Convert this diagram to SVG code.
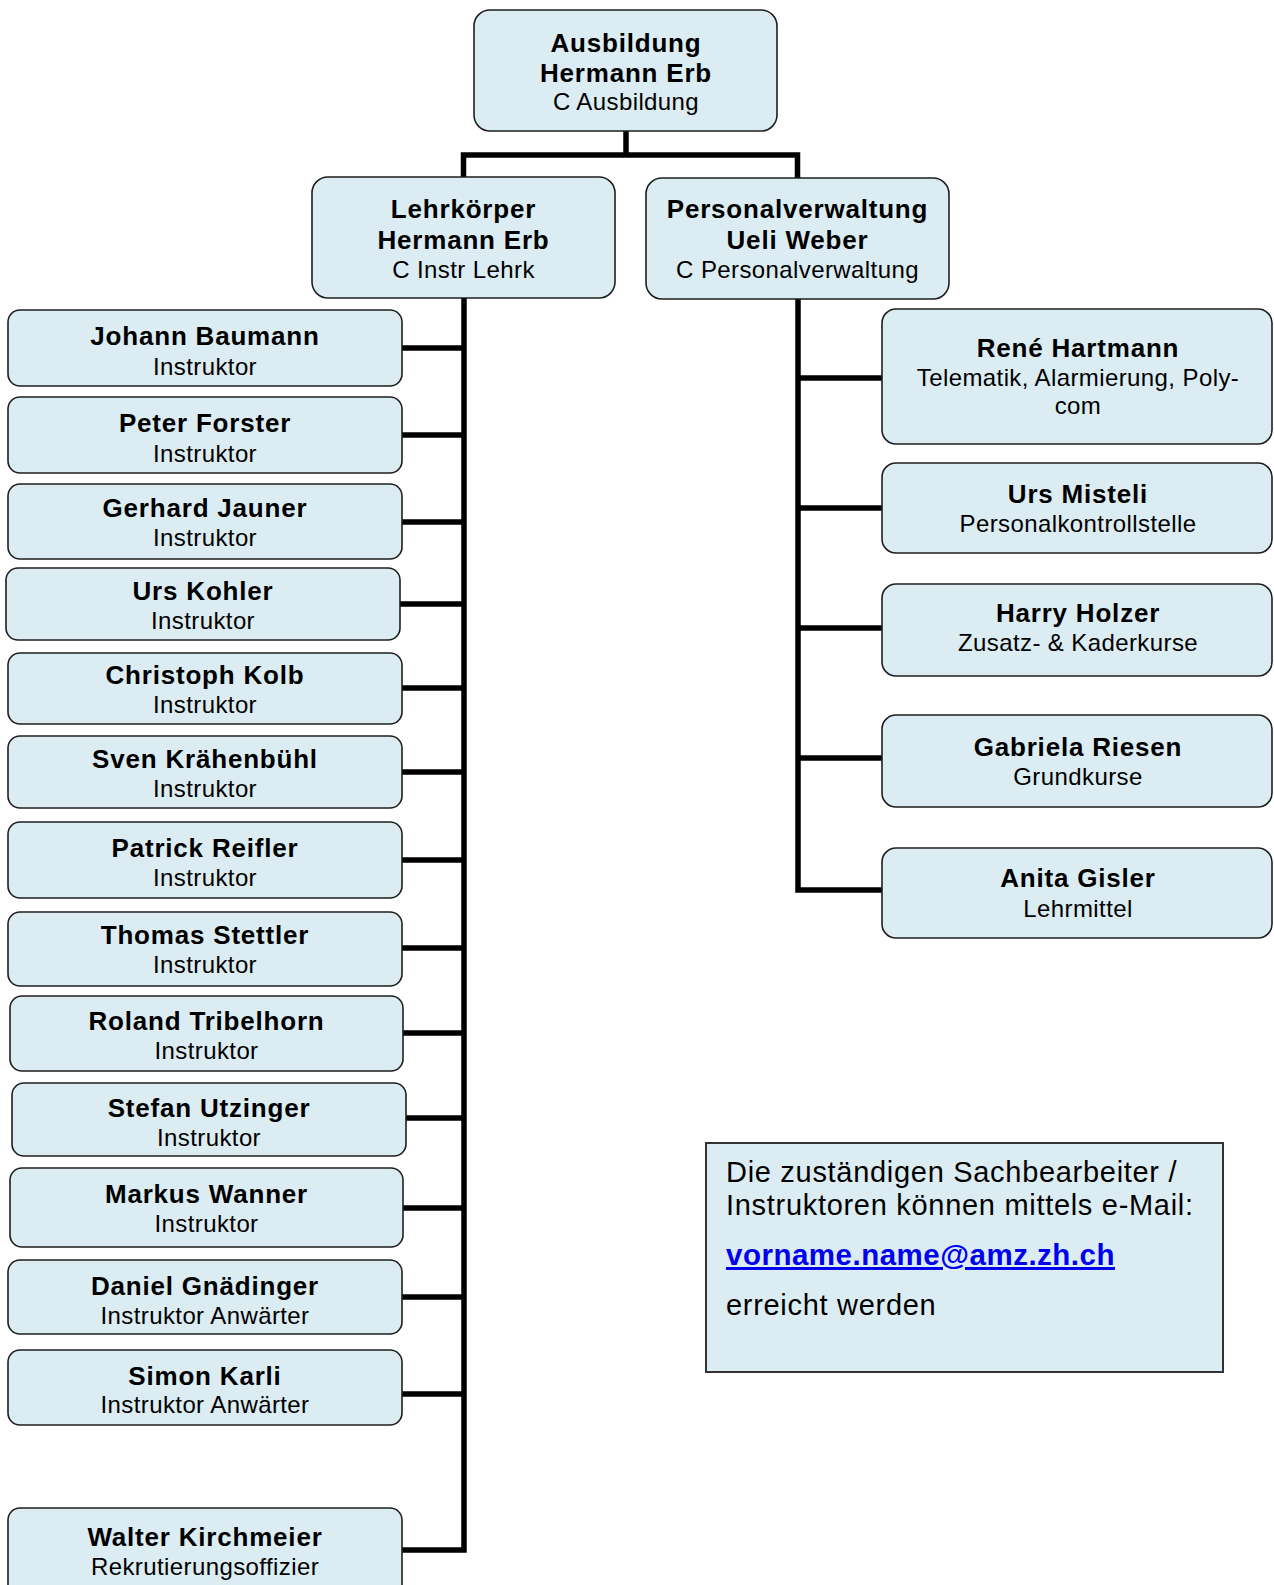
<svg xmlns="http://www.w3.org/2000/svg" width="1274" height="1585" viewBox="0 0 1274 1585">
<style>
.box{fill:#dbedf3;stroke:#1e1e1e;stroke-width:1.6}
.b{font-family:"Liberation Sans",Arial,sans-serif;font-weight:bold;font-size:26px;letter-spacing:0.8px;fill:#000;text-anchor:middle}
.r{font-family:"Liberation Sans",Arial,sans-serif;font-size:24px;letter-spacing:0.4px;fill:#000;text-anchor:middle}
.conn{fill:none;stroke:#000;stroke-width:5.5;stroke-linejoin:miter;stroke-linecap:butt}
.note{font-family:"Liberation Sans",Arial,sans-serif;font-size:29px;letter-spacing:0.7px;fill:#000}
.link{font-family:"Liberation Sans",Arial,sans-serif;font-size:29.5px;font-weight:bold;letter-spacing:0.5px;fill:#0000ee;text-decoration:underline}
</style>
<rect width="1274" height="1585" fill="#fff"/>
<g id="connectors">
<path class="conn" d="M626 131V155M463.5 177V155H797.5V178"/>
<path class="conn" d="M464 298V1550H402"/>
<path class="conn" d="M402 348H464M402 435H464M402 522H464M400 604H464M402 688H464M402 772H464M402 860H464M402 948H464M403 1033H464M406 1118H464M403 1208H464M402 1297H464M402 1394H464"/>
<path class="conn" d="M798 299V890H882M798 378H882M798 508H882M798 628H882M798 758H882"/>
</g>
<g id="n-ausbildung"><rect class="box" x="474" y="10" width="303" height="121" rx="16"/>
<text class="b" x="626" y="52">Ausbildung</text><text class="b" x="626" y="82">Hermann Erb</text><text class="r" x="626" y="110">C Ausbildung</text></g>
<g id="n-lehrkoerper"><rect class="box" x="312" y="177" width="303" height="121" rx="16"/>
<text class="b" x="463.5" y="218">Lehrkörper</text><text class="b" x="463.5" y="249">Hermann Erb</text><text class="r" x="463.5" y="278">C Instr Lehrk</text></g>
<g id="n-personal"><rect class="box" x="646" y="178" width="303" height="121" rx="16"/>
<text class="b" x="797.5" y="218">Personalverwaltung</text><text class="b" x="797.5" y="249">Ueli Weber</text><text class="r" x="797.5" y="278">C Personalverwaltung</text></g>
<g id="n-baumann"><rect class="box" x="8" y="310" width="394" height="76" rx="12"/><text class="b" x="205" y="345">Johann Baumann</text><text class="r" x="205" y="375">Instruktor</text></g>
<g id="n-forster"><rect class="box" x="8" y="397" width="394" height="76" rx="12"/><text class="b" x="205" y="432">Peter Forster</text><text class="r" x="205" y="462">Instruktor</text></g>
<g id="n-jauner"><rect class="box" x="8" y="484" width="394" height="75" rx="12"/><text class="b" x="205" y="517">Gerhard Jauner</text><text class="r" x="205" y="546">Instruktor</text></g>
<g id="n-kohler"><rect class="box" x="6" y="568" width="394" height="72" rx="12"/><text class="b" x="203" y="600">Urs Kohler</text><text class="r" x="203" y="629">Instruktor</text></g>
<g id="n-kolb"><rect class="box" x="8" y="653" width="394" height="71" rx="12"/><text class="b" x="205" y="684">Christoph Kolb</text><text class="r" x="205" y="713">Instruktor</text></g>
<g id="n-kraehenbuehl"><rect class="box" x="8" y="736" width="394" height="72" rx="12"/><text class="b" x="205" y="768">Sven Krähenbühl</text><text class="r" x="205" y="797">Instruktor</text></g>
<g id="n-reifler"><rect class="box" x="8" y="822" width="394" height="76" rx="12"/><text class="b" x="205" y="857">Patrick Reifler</text><text class="r" x="205" y="886">Instruktor</text></g>
<g id="n-stettler"><rect class="box" x="8" y="912" width="394" height="74" rx="12"/><text class="b" x="205" y="944">Thomas Stettler</text><text class="r" x="205" y="973">Instruktor</text></g>
<g id="n-tribelhorn"><rect class="box" x="10" y="996" width="393" height="75" rx="12"/><text class="b" x="206.5" y="1030">Roland Tribelhorn</text><text class="r" x="206.5" y="1059">Instruktor</text></g>
<g id="n-utzinger"><rect class="box" x="12" y="1083" width="394" height="73" rx="12"/><text class="b" x="209" y="1117">Stefan Utzinger</text><text class="r" x="209" y="1146">Instruktor</text></g>
<g id="n-wanner"><rect class="box" x="10" y="1168" width="393" height="79" rx="12"/><text class="b" x="206.5" y="1203">Markus Wanner</text><text class="r" x="206.5" y="1232">Instruktor</text></g>
<g id="n-gnaedinger"><rect class="box" x="8" y="1260" width="394" height="74" rx="12"/><text class="b" x="205" y="1295">Daniel Gnädinger</text><text class="r" x="205" y="1324">Instruktor Anwärter</text></g>
<g id="n-karli"><rect class="box" x="8" y="1350" width="394" height="75" rx="12"/><text class="b" x="205" y="1385">Simon Karli</text><text class="r" x="205" y="1413">Instruktor Anwärter</text></g>
<g id="n-kirchmeier"><rect class="box" x="8" y="1508" width="394" height="100" rx="12"/><text class="b" x="205" y="1546">Walter Kirchmeier</text><text class="r" x="205" y="1575">Rekrutierungsoffizier</text></g>
<g id="n-hartmann"><rect class="box" x="882" y="309" width="390" height="135" rx="14"/><text class="b" x="1078" y="357">René Hartmann</text><text class="r" x="1078" y="386">Telematik, Alarmierung, Poly-</text><text class="r" x="1078" y="414">com</text></g>
<g id="n-misteli"><rect class="box" x="882" y="463" width="390" height="90" rx="14"/><text class="b" x="1078" y="503">Urs Misteli</text><text class="r" x="1078" y="532">Personalkontrollstelle</text></g>
<g id="n-holzer"><rect class="box" x="882" y="584" width="390" height="92" rx="14"/><text class="b" x="1078" y="622">Harry Holzer</text><text class="r" x="1078" y="651">Zusatz- &amp; Kaderkurse</text></g>
<g id="n-riesen"><rect class="box" x="882" y="715" width="390" height="92" rx="14"/><text class="b" x="1078" y="756">Gabriela Riesen</text><text class="r" x="1078" y="785">Grundkurse</text></g>
<g id="n-gisler"><rect class="box" x="882" y="848" width="390" height="90" rx="14"/><text class="b" x="1078" y="887">Anita Gisler</text><text class="r" x="1078" y="917">Lehrmittel</text></g>
<g id="note"><rect x="706" y="1143" width="517" height="229" fill="#dbedf3" stroke="#333" stroke-width="2"/>
<text class="note" x="726" y="1182">Die zuständigen Sachbearbeiter /</text>
<text class="note" x="726" y="1215">Instruktoren können mittels e-Mail:</text>
<text class="link" x="726" y="1265">vorname.name@amz.zh.ch</text>
<text class="note" x="726" y="1315">erreicht werden</text></g>
</svg>
